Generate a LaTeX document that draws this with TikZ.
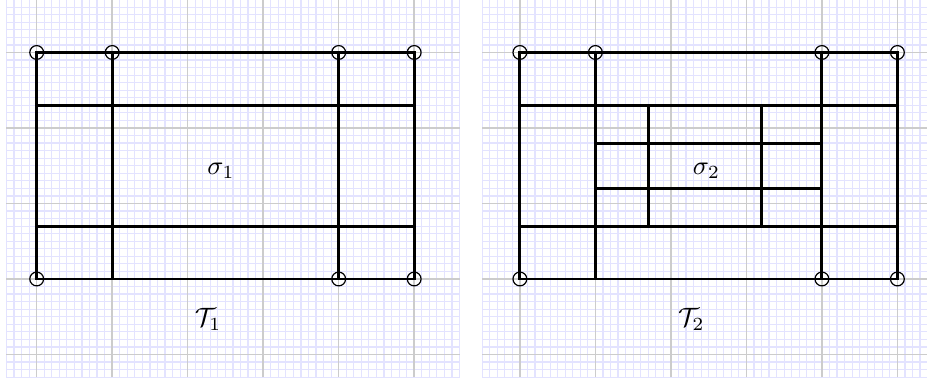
\documentclass[tikz,border=0pt]{standalone}
\begin{document}
\begin{tikzpicture}[x=1cm,y=1cm,
  edge/.style={line width=1.1pt, black},
  vtx/.style={circle, draw=black, line width=0.45pt, minimum size=5.2pt, inner sep=0pt},
  minorgrid/.style={draw=blue!11, line width=0.45pt},
  majorgrid/.style={draw=black!20, line width=0.6pt},
  lbl/.style={anchor=base, inner sep=0pt}]
\useasboundingbox (-0.486,-1.338) rectangle (11.792,3.695);
\fill[white] (-0.486,-1.338) rectangle (11.792,3.695);
% left grid
\foreach \i in {-4,...,56} \draw[minorgrid] (\i/10,-1.3) -- (\i/10,3.7);
\foreach \j in {-13,...,37} \draw[minorgrid] (-0.4,\j/10) -- (5.6,\j/10);
\foreach \i in {0,...,5} \draw[majorgrid] (\i,-1.3) -- (\i,3.7);
\foreach \j in {-1,...,3} \draw[majorgrid] (-0.4,\j) -- (5.6,\j);
% right grid
\foreach \i in {-5,...,54} \draw[minorgrid] (6.4+\i/10,-1.3) -- (6.4+\i/10,3.7);
\foreach \j in {-13,...,37} \draw[minorgrid] (5.9,\j/10) -- (11.8,\j/10);
\foreach \i in {0,...,5} \draw[majorgrid] (6.4+\i,-1.3) -- (6.4+\i,3.7);
\foreach \j in {-1,...,3} \draw[majorgrid] (5.9,\j) -- (11.8,\j);
% left panel
\begin{scope}
  \draw[edge] (0,0) rectangle (5,3);
  \draw[edge] (1,0) -- (1,3);
  \draw[edge] (4,0) -- (4,3);
  \draw[edge] (0,0.7) -- (5,0.7);
  \draw[edge] (0,2.3) -- (5,2.3);
  \node[vtx] (a1) at (0,0) {};
  \node[vtx] (a2) at (4,0) {};
  \node[vtx] (a3) at (5,0) {};
  \node[vtx] (a4) at (0,3) {};
  \node[vtx] (a5) at (1,3) {};
  \node[vtx] (a6) at (4,3) {};
  \node[vtx] (a7) at (5,3) {};
  \node[lbl] (s1) at (2.44,1.38) {$\sigma_1$};
  \node[lbl] (t1) at (2.27,-0.63) {$\mathcal{T}_1$};
\end{scope}
% right panel
\begin{scope}[xshift=6.4cm]
  \draw[edge] (0,0) rectangle (5,3);
  \draw[edge] (1,0) -- (1,3);
  \draw[edge] (4,0) -- (4,3);
  \draw[edge] (0,0.7) -- (5,0.7);
  \draw[edge] (0,2.3) -- (5,2.3);
  \draw[edge] (1.7,0.7) -- (1.7,2.3);
  \draw[edge] (3.2,0.7) -- (3.2,2.3);
  \draw[edge] (1,1.2) -- (4,1.2);
  \draw[edge] (1,1.8) -- (4,1.8);
  \node[vtx] (b1) at (0,0) {};
  \node[vtx] (b2) at (4,0) {};
  \node[vtx] (b3) at (5,0) {};
  \node[vtx] (b4) at (0,3) {};
  \node[vtx] (b5) at (1,3) {};
  \node[vtx] (b6) at (4,3) {};
  \node[vtx] (b7) at (5,3) {};
  \node[lbl] (s2) at (2.47,1.38) {$\sigma_2$};
  \node[lbl] (t2) at (2.27,-0.63) {$\mathcal{T}_2$};
\end{scope}
\end{tikzpicture}
\end{document}
